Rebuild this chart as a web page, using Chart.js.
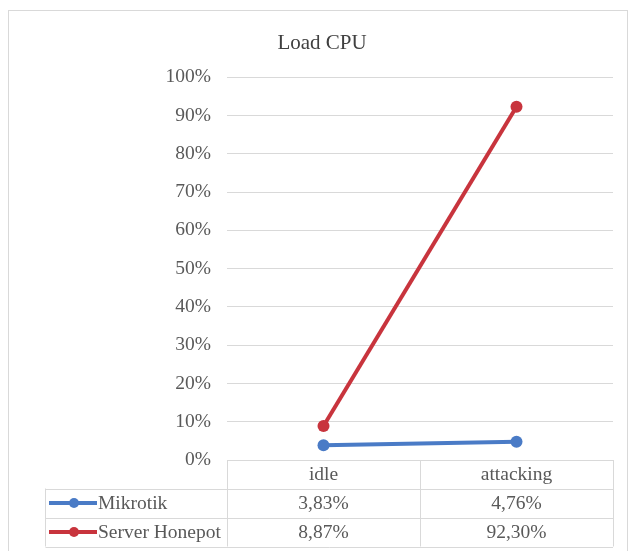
<!DOCTYPE html>
<html>
<head>
<meta charset="utf-8">
<script src="https://cdn.jsdelivr.net/npm/chart.js@4"></script>
<style>
html,body{margin:0;padding:0;background:#fff;}
#wrap{width:632px;height:551px;}
</style>
</head>
<body>
<div id="wrap"><canvas id="c" width="632" height="551"></canvas></div>
<script>
const categories = ['idle', 'attacking'];
const seriesNames = ['Mikrotik', 'Server Honepot'];
const mikrotik = [3.83, 4.76];
const honeypot = [8.87, 92.30];
const yMin = 0, yMax = 100, yStep = 10;
const chartTitle = 'Load CPU';

const colors = ['#4a7bc6', '#c8343d'];
const textColor = '#595959';
const gridColor = '#d9d9d9';
const FONT = "'Liberation Serif', 'Times New Roman', serif";

function fmt(v){ return v.toFixed(2).replace('.', ',') + '%'; }

const frame = {
  id: 'frame',
  beforeDraw(chart){
    const ctx = chart.ctx;
    ctx.save();
    ctx.fillStyle = '#fff';
    ctx.fillRect(0, 0, chart.width, chart.height);
    ctx.strokeStyle = gridColor;
    ctx.lineWidth = 1;
    ctx.strokeRect(8.5, 10.5, 619, 600);
    ctx.restore();
  }
};

const dataTable = {
  id: 'dataTable',
  afterDraw(chart){
    const ctx = chart.ctx;
    const x = chart.scales.x;
    const area = chart.chartArea;
    const left = 45.5, colL = area.left, right = area.right;
    const top = area.bottom;
    const rowH = [28.5, 29, 29];
    const rowsY = [top];
    rowH.forEach((h,i)=>rowsY.push(rowsY[i] + h));
    ctx.save();
    ctx.strokeStyle = gridColor;
    ctx.lineWidth = 1;
    ctx.beginPath();
    ctx.moveTo(colL, Math.round(rowsY[0]) + 0.5); ctx.lineTo(right, Math.round(rowsY[0]) + 0.5);
    for (let i = 1; i < rowsY.length; i++){
      ctx.moveTo(left, Math.round(rowsY[i]) + 0.5); ctx.lineTo(right, Math.round(rowsY[i]) + 0.5);
    }
    const bounds = [colL];
    for (let i = 0; i < categories.length - 1; i++){
      bounds.push((x.getPixelForValue(i) + x.getPixelForValue(i+1)) / 2);
    }
    bounds.push(right);
    bounds.forEach(b => { ctx.moveTo(Math.round(b)+0.5, rowsY[0]); ctx.lineTo(Math.round(b)+0.5, rowsY[rowsY.length-1]); });
    ctx.moveTo(left, rowsY[1]); ctx.lineTo(left, rowsY[rowsY.length-1]);
    ctx.stroke();

    ctx.fillStyle = textColor;
    ctx.font = "19.5px " + FONT;
    ctx.textAlign = 'center';
    ctx.textBaseline = 'middle';
    categories.forEach((c,i)=>{
      ctx.fillText(c, x.getPixelForValue(i), (rowsY[0]+rowsY[1])/2 + 1);
    });
    chart.data.datasets.forEach((ds, r)=>{
      const yc = (rowsY[r+1] + rowsY[r+2]) / 2 + 1;
      ctx.textAlign = 'center';
      ds.data.forEach((v,i)=>{
        ctx.fillText(fmt(v), x.getPixelForValue(i), yc);
      });
      ctx.strokeStyle = ds.borderColor;
      ctx.lineWidth = 4;
      ctx.beginPath();
      ctx.moveTo(49, yc - 1); ctx.lineTo(97, yc - 1);
      ctx.stroke();
      ctx.fillStyle = ds.borderColor;
      ctx.beginPath();
      ctx.arc(74, yc - 1, 5, 0, Math.PI*2);
      ctx.fill();
      ctx.fillStyle = textColor;
      ctx.textAlign = 'left';
      ctx.fillText(ds.label, 98, yc);
    });
    ctx.restore();
  }
};

new Chart(document.getElementById('c'), {
  type: 'line',
  data: {
    labels: categories,
    datasets: [
      { label: seriesNames[0], data: mikrotik, borderColor: colors[0], backgroundColor: colors[0],
        borderWidth: 4, pointRadius: 6, pointHoverRadius: 6, pointBackgroundColor: colors[0], pointBorderWidth: 0, tension: 0 },
      { label: seriesNames[1], data: honeypot, borderColor: colors[1], backgroundColor: colors[1],
        borderWidth: 4, pointRadius: 6, pointHoverRadius: 6, pointBackgroundColor: colors[1], pointBorderWidth: 0, tension: 0 }
    ]
  },
  options: {
    responsive: false,
    animation: false,
    devicePixelRatio: 1,
    layout: { padding: { left: 31, right: 19, top: 0, bottom: 91 } },
    plugins: {
      legend: { display: false },
      tooltip: { enabled: false },
      title: {
        display: true, text: chartTitle, color: '#404040',
        font: { family: FONT, size: 21, weight: 'normal' },
        padding: { top: 31, bottom: 21 }
      }
    },
    scales: {
      x: { type: 'category', offset: true, display: false },
      y: {
        min: yMin, max: yMax,
        afterFit(scale){ scale.width = 196; },
        border: { display: false },
        grid: { color: gridColor, lineWidth: 1, drawTicks: false },
        ticks: {
          stepSize: yStep, padding: 16, color: textColor,
          font: { family: FONT, size: 19.5 },
          callback: v => v + '%'
        }
      }
    }
  },
  plugins: [frame, dataTable]
});
</script>
</body>
</html>
